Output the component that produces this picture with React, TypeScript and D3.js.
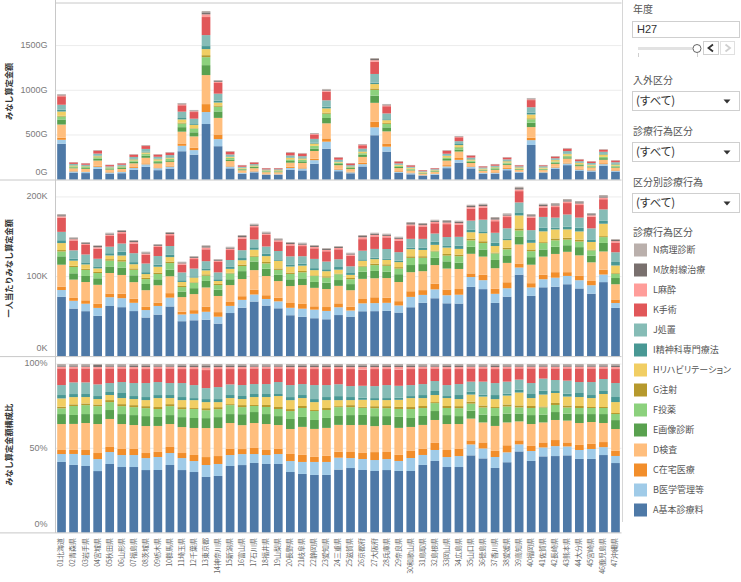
import React from 'react';
import * as d3 from 'd3';

const prefectures = ['01北海道','02青森県','03岩手県','04宮城県','05秋田県','06山形県','07福島県','08茨城県','09栃木県','10群馬県','11埼玉県','12千葉県','13東京都','14神奈川県','15新潟県','16富山県','17石川県','18福井県','19山梨県','20長野県','21岐阜県','22静岡県','23愛知県','24三重県','25滋賀県','26京都府','27大阪府','28兵庫県','29奈良県','30和歌山県','31鳥取県','32島根県','33岡山県','34広島県','35山口県','36徳島県','37香川県','38愛媛県','39高知県','40福岡県','41佐賀県','42長崎県','43熊本県','44大分県','45宮崎県','46鹿児島県','47沖縄県'];

const categoryNames = ['A基本診療料','B医学管理等','C在宅医療','D検査','E画像診断','F投薬','G注射','Hリハビリテーション','I精神科専門療法','J処置','K手術','L麻酔','M放射線治療','N病理診断'];
const categoryColors = ['#4e79a7','#a0cbe8','#f28e2b','#ffbe7d','#59a14f','#8cd17d','#b6992d','#f1ce63','#499894','#86bcb6','#e15759','#ff9d9a','#79706e','#bab0ac'];

// みなし算定金額 (G)
const totalAmountG = [958,198,187,332,168,187,287,388,287,310,858,780,1887,1115,321,165,198,131,131,310,299,522,1015,254,187,399,1361,847,209,165,108,131,332,489,276,153,176,254,165,914,165,265,355,232,209,343,220];
// 一人当たりみなし算定金額 (K)
const perCapitaK = [178.5,149.3,143.4,139.3,155.1,158.5,145.9,131.3,140.9,156.0,118.7,125.8,139.3,122.1,137.5,152.2,166.4,156.4,148.0,143.4,142.6,139.7,135.9,138.4,130.0,152.2,155.1,153.9,150.1,168.5,167.3,171.4,171.0,170.2,190.2,191.5,174.8,179.4,212.8,178.5,191.5,192.3,197.4,194.9,179.8,202.4,147.2];

// 構成比 (%) per category
const shareA = [41.9,40.1,39.5,36.5,40.7,38.9,38.9,37.1,37.1,40.1,37.1,35.9,33.0,33.6,39.5,40.1,41.3,40.7,40.7,35.9,34.8,34.2,34.2,37.7,38.3,37.1,36.5,37.1,36.5,36.5,40.1,42.5,38.9,38.9,46.0,44.2,38.3,41.9,48.4,42.5,45.4,45.4,46.0,43.7,43.7,46.0,41.3];
const shareB = [4.7,6.5,6.5,7.1,7.1,7.1,7.1,7.1,7.7,7.1,7.1,6.5,7.1,7.1,6.5,6.5,5.3,5.3,5.9,6.5,7.1,7.7,7.7,7.1,5.9,6.5,6.5,6.5,5.9,7.7,5.9,6.5,5.9,6.5,6.5,5.9,6.5,5.9,4.2,5.9,5.3,5.9,5.3,5.3,5.9,4.7,4.2];
const shareC = [2.4,2.4,3.0,3.6,3.0,3.6,3.6,3.0,3.0,3.6,3.0,3.6,4.7,4.7,3.6,3.0,3.6,3.0,3.0,4.2,4.2,3.0,3.6,3.6,3.6,3.6,4.7,4.2,3.6,4.2,3.6,4.2,4.2,4.2,2.4,3.6,3.6,4.2,2.4,3.0,3.0,3.6,2.4,3.0,3.0,3.0,3.0];
const shareD = [15.4,15.4,16.0,17.2,16.6,14.8,14.2,16.0,15.4,13.6,15.4,16.0,17.2,16.6,15.4,14.2,14.8,15.4,14.2,14.8,16.6,16.6,16.6,16.0,16.0,16.6,15.4,16.0,16.0,14.2,14.2,13.6,15.4,14.8,13.0,11.9,14.8,13.6,11.3,13.0,11.9,11.9,13.0,13.0,13.0,11.3,13.0];
const shareE = [5.9,5.3,5.3,5.9,5.3,5.9,5.9,5.9,5.3,5.3,5.9,5.9,5.9,6.5,5.3,6.5,6.5,5.9,5.3,5.9,5.9,5.3,5.9,5.3,5.9,5.9,5.9,5.3,6.5,5.3,5.3,5.3,5.3,4.7,4.7,4.7,5.9,5.3,4.7,5.3,4.7,4.7,4.2,5.3,4.7,5.3,5.3];
const shareF = [3.4,5.3,5.3,4.7,4.7,4.7,4.7,4.7,4.7,5.3,4.7,5.3,4.7,4.7,5.3,4.2,3.6,4.2,4.2,4.7,5.3,5.3,4.7,5.3,4.7,4.2,4.7,4.7,4.7,5.3,4.7,4.7,4.2,4.7,4.2,4.2,4.7,4.2,3.6,4.2,4.2,4.2,3.6,3.6,3.6,3.6,3.6];
const shareG = [1.0,1.0,1.0,1.0,1.2,1.2,1.2,1.2,1.2,1.2,1.2,0.6,1.2,1.2,0.6,1.2,0.6,1.2,1.2,1.2,1.2,0.6,1.2,0.6,1.2,0.6,1.2,1.2,1.2,1.2,1.2,0.6,1.2,1.2,1.2,1.2,0.6,1.2,1.2,1.2,0.6,1.2,1.2,1.2,0.6,0.6,0.6];
const shareH = [4.9,4.3,3.8,3.2,3.0,3.6,3.6,3.6,5.3,3.6,4.2,4.7,3.6,3.0,3.6,3.6,4.7,4.7,6.5,5.3,4.7,4.7,4.7,3.6,3.0,4.2,3.6,3.6,4.2,5.3,4.7,4.2,4.7,4.2,4.2,5.3,4.7,5.3,7.7,4.7,7.1,5.9,5.3,5.3,5.3,7.7,6.5];
const shareI = [2.0,1.8,1.8,1.8,1.8,3.0,1.8,1.8,1.8,1.8,1.8,1.2,1.8,1.8,1.8,1.8,1.8,1.8,1.2,1.8,1.8,1.8,1.8,2.4,1.8,1.2,1.2,1.2,1.2,1.2,1.8,2.4,1.2,2.4,1.8,1.2,2.4,1.2,1.8,2.4,2.4,1.2,1.8,2.4,1.8,1.8,3.0];
const shareJ = [5.9,6.9,6.9,6.9,5.3,6.5,7.7,8.3,7.7,7.1,8.3,7.7,6.5,7.1,6.3,6.5,5.9,5.9,7.1,7.1,6.5,8.3,7.1,7.1,6.5,7.1,7.1,7.7,7.1,6.5,6.5,5.9,6.5,6.5,5.9,7.7,7.1,7.1,5.9,6.5,7.1,6.5,7.7,6.5,7.7,7.1,8.3];
const shareK = [9.9,8.3,8.3,9.1,8.7,8.1,8.3,8.3,8.1,8.7,8.3,9.5,10.7,10.7,9.1,9.5,9.3,9.3,8.1,9.5,8.9,9.5,9.5,9.1,10.1,9.5,10.1,9.5,9.5,9.5,9.3,7.5,9.5,8.9,7.9,7.9,8.3,7.9,6.7,8.7,6.1,6.9,7.3,8.1,8.1,6.3,8.3];
const shareL = [1.0,1.0,1.0,1.2,1.0,1.0,1.2,1.2,1.0,1.0,1.2,1.2,1.6,1.2,1.2,1.2,1.0,1.0,1.0,1.2,1.2,1.2,1.2,1.2,1.2,1.6,1.2,1.2,1.6,1.2,1.0,1.0,1.2,1.2,1.0,1.0,1.2,1.0,1.0,1.0,1.0,1.0,1.0,1.0,1.0,1.0,1.2];
const shareM = [0.8,0.8,0.8,1.2,0.8,0.8,1.0,1.0,0.8,0.8,1.0,1.0,1.2,1.0,1.0,1.0,0.8,0.8,0.8,1.0,1.0,1.0,1.0,1.0,1.0,1.0,1.0,1.0,1.0,1.0,0.8,0.8,1.0,1.0,0.8,0.8,1.0,0.8,0.8,0.8,0.8,0.8,0.8,0.8,0.8,0.8,1.0];
const shareN = [0.8,0.8,0.8,0.6,0.8,0.8,0.8,0.8,0.8,0.8,0.8,0.8,0.8,0.8,0.8,0.8,0.8,0.8,0.8,0.8,0.8,0.8,0.8,0.8,0.8,0.8,0.8,0.8,0.8,0.8,0.8,0.8,0.8,0.8,0.8,0.8,0.8,0.8,0.8,0.8,0.8,0.8,0.8,0.8,0.8,0.8,0.8];
const shares = [shareA,shareB,shareC,shareD,shareE,shareF,shareG,shareH,shareI,shareJ,shareK,shareL,shareM,shareN];

const ticksTotal = [0,500,1000,1500];
const ticksPerCapita = [0,100,200];
const ticksPct = [0,0.5,1];

const filterLabels = ['入外区分','診療行為区分','区分別診療行為'];

const LATIN = "'Liberation Sans','Noto Sans CJK JP',sans-serif";
const JP = "'Noto Sans CJK JP','Liberation Sans',sans-serif";

export default function App() {
  const X0 = 55.5, X1 = 621.5;
  const x = d3.scaleBand<string>().domain(prefectures).range([X0, X1]).paddingInner(0.28).paddingOuter(0.14);

  const fracRows = prefectures.map((p, i) => {
    const sum = d3.sum(shares, s => s[i]);
    const row: Record<string, any> = { pref: p };
    categoryNames.forEach((c, k) => { row[c] = shares[k][i] / sum; });
    return row;
  });

  const panels = [
    { title: 'みなし算定金額', mult: totalAmountG, y: d3.scaleLinear().domain([0, 1975]).range([179.7, 3.1]), ticks: ticksTotal, fmt: (t: number) => `${t}G`, top: 3, bottom: 179.7 },
    { title: '一人当たりみなし算定金額', mult: perCapitaK, y: d3.scaleLinear().domain([0, 221]).range([356.3, 180.2]), ticks: ticksPerCapita, fmt: (t: number) => `${t}K`, top: 180.2, bottom: 356.3 },
    { title: 'みなし算定金額構成比', mult: null as number[] | null, y: d3.scaleLinear().domain([0, 1]).range([532.6, 364]), ticks: ticksPct, fmt: (t: number) => `${Math.round(t * 100)}%`, top: 357, bottom: 532.6 },
  ];

  const stack = d3.stack<any>().keys(categoryNames);

  return (
    <svg width={741} height={582} style={{ position: 'absolute', left: 0, top: 0, background: '#fff' }}>
      <rect x={0} y={0} width={741} height={582} fill="#fff" />
      {panels.map((p, pi) => {
        const rows = fracRows.map((r, i) => {
          const o: Record<string, any> = { pref: r.pref };
          categoryNames.forEach(c => { o[c] = r[c] * (p.mult ? p.mult[i] : 1); });
          return o;
        });
        const series = stack(rows);
        return (
          <g key={pi}>
            {p.ticks.filter(t => t > 0).map(t => (
              <line key={t} x1={X0} x2={X1} y1={p.y(t)} y2={p.y(t)} stroke="#ececec" strokeWidth={1} />
            ))}
            {series.map((s, k) => (
              <g key={k} fill={categoryColors[k]}>
                {s.map((d, i) => (
                  <rect key={i} x={x(prefectures[i])} y={p.y(d[1])} width={x.bandwidth()} height={Math.max(0, p.y(d[0]) - p.y(d[1]))} />
                ))}
              </g>
            ))}
            {p.ticks.map(t => (
              <text key={t} x={47.5} y={Math.min(p.y(t), p.bottom - 7.5)} textAnchor="end" dominantBaseline="middle" fontSize={9} fill="#7a7a7a" fontFamily={LATIN}>{p.fmt(t)}</text>
            ))}
            <text transform={`translate(10,${(p.top + p.bottom) / 2}) rotate(-90)`} textAnchor="middle" dominantBaseline="middle" fontSize={8.2} fontWeight="bold" fill="#333" fontFamily={JP}>{p.title}</text>
            <line x1={0} x2={X1} y1={p.bottom + 0.3} y2={p.bottom + 0.3} stroke="#c8c8c8" strokeWidth={1} />
          </g>
        );
      })}
      <line x1={X0} x2={X1} y1={3} y2={3} stroke="#c8c8c8" strokeWidth={1} />
      <line x1={X0} x2={X0} y1={0} y2={533} stroke="#c8c8c8" strokeWidth={1} />
      {prefectures.map(p => (
        <text key={p} transform={`translate(${(x(p) as number) + x.bandwidth() / 2},538) rotate(-90)`} textAnchor="end" dominantBaseline="middle" fontSize={7} fill="#666" fontFamily={JP}>{p}</text>
      ))}

      {/* right panel */}
      <line x1={622.5} x2={622.5} y1={0} y2={522} stroke="#d6d6d6" strokeWidth={1} />
      <text x={633} y={10} dominantBaseline="middle" fontSize={10} fill="#555" fontFamily={JP}>年度</text>
      <rect x={632.5} y={21.5} width={107} height={16} fill="#fff" stroke="#cfcfcf" />
      <text x={637} y={29.8} dominantBaseline="middle" fontSize={11} fill="#333" fontFamily={LATIN}>H27</text>
      <rect x={638} y={47} width={57} height={3} fill="#e2e2e2" />
      <line x1={638.5} x2={638.5} y1={53} y2={57} stroke="#cfcfcf" />
      <line x1={697.5} x2={697.5} y1={53} y2={57} stroke="#cfcfcf" />
      <circle cx={697} cy={48.5} r={4} fill="#fff" stroke="#666" strokeWidth={1} />
      <rect x={703.5} y={41.5} width={15} height={13} fill="#fff" stroke="#cfcfcf" />
      <path d="M713 44.5 L708.5 48 L713 51.5" fill="none" stroke="#333" strokeWidth={1.8} />
      <rect x={720.5} y={41.5} width={14} height={13} fill="#fff" stroke="#e0e0e0" />
      <path d="M725.5 44.5 L730 48 L725.5 51.5" fill="none" stroke="#cfcfcf" strokeWidth={1.8} />

      {filterLabels.map((lab, i) => {
        const ly = 81 + i * 51;
        const by = 91 + i * 51;
        return (
          <g key={lab}>
            <text x={633} y={ly} dominantBaseline="middle" fontSize={10} fill="#555" fontFamily={JP}>{lab}</text>
            <rect x={632.5} y={by + 0.5} width={107} height={19} fill="#fff" stroke="#cfcfcf" />
            <text x={636} y={by + 10.5} dominantBaseline="middle" fontSize={11.5} fill="#333" fontFamily={JP} style={{ fontFeatureSettings: '"palt"' }}>(すべて)</text>
            <path d={`M723.5 ${by + 8.5} L730.5 ${by + 8.5} L727 ${by + 12.5} Z`} fill="#333" />
          </g>
        );
      })}

      <text x={633} y={233.5} dominantBaseline="middle" fontSize={10} fill="#555" fontFamily={JP}>診療行為区分</text>
      {categoryNames.slice().reverse().map((c, k) => {
        const ci = categoryNames.length - 1 - k;
        return (
          <g key={c}>
            <rect x={634} y={243.5 + k * 20} width={13} height={13} fill={categoryColors[ci]} />
            <text x={653} y={250.3 + k * 20} dominantBaseline="middle" fontSize={9} fill="#555" fontFamily={JP} style={{ fontFeatureSettings: '"palt"' }}>{c}</text>
          </g>
        );
      })}
    </svg>
  );
}
